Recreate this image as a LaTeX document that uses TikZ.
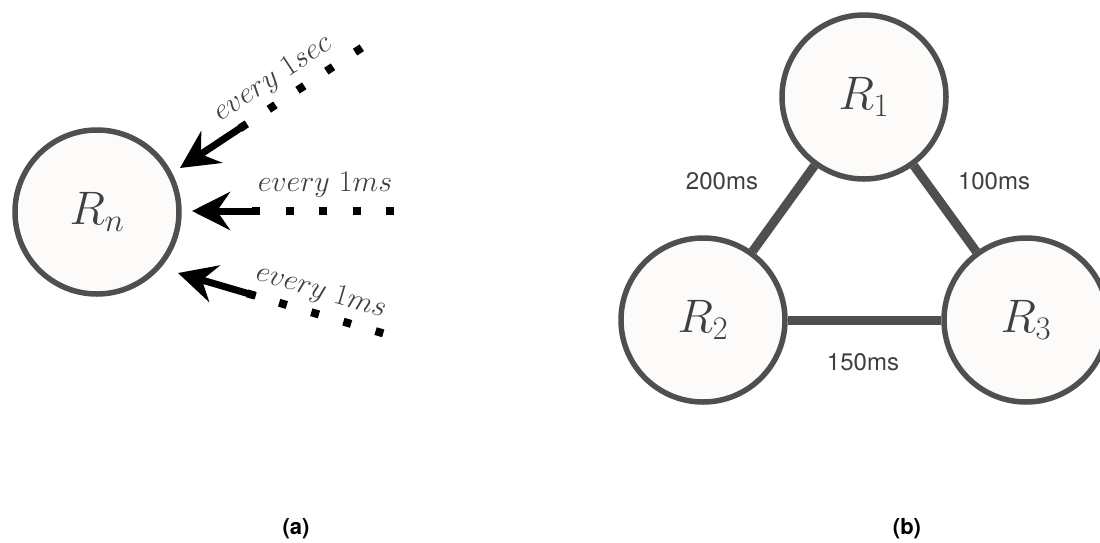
\documentclass[tikz,border=0pt]{standalone}
\usepackage{fix-cm}
\usepackage{fontspec}
\newfontfamily\heros{TeX Gyre Heros}
\usetikzlibrary{arrows.meta}
\definecolor{ring}{HTML}{4F4F4F}
\definecolor{ringfill}{HTML}{FCFBF9}
\definecolor{txt}{HTML}{404040}
\begin{document}
\begin{tikzpicture}[x=1pt,y=-1pt,
  replica/.style={circle, draw=ring, fill=ringfill, line width=5.5pt, minimum size=164pt, inner sep=0pt, text=txt, font=\fontsize{47}{56}\selectfont},
  link/.style={draw=ring, line width=9pt},
  lat/.style={text=txt, inner sep=0pt, font=\heros\fontsize{24}{28}\selectfont},
  period/.style={text=txt, inner sep=0pt, font=\fontsize{30}{36}\selectfont},
  shaft/.style={line width=7pt, -{Stealth[length=38pt,width=38pt,inset=13pt]}},
  dotsline/.style={line width=8pt, dash pattern=on 8pt off #1},
  subcap/.style={inner sep=0pt, font=\heros\bfseries\fontsize{22}{26}\selectfont}
]
\fill[white] (0,0) rectangle (1100,542);
\useasboundingbox (0,0) rectangle (1100,542);

% ---------- (a) ----------
\node[replica] (Rn) at (97,212) {$R_n$};

% top arrow
\coordinate (t1) at (180,168);
\coordinate (s1) at (246.7,123.8);
\coordinate (d1) at (240.0,128.3);
\coordinate (f1) at (361.8,47.7);
\draw[dotsline=26.5pt] (d1) -- (f1);
\draw[shaft] (s1) -- (t1);
\node[period, rotate=33.5] (l1) at (273,79) {$every\ 1sec$};

% middle arrow
\coordinate (t2) at (192,211);
\coordinate (s2) at (260,211);
\coordinate (d2) at (252,211);
\coordinate (f2) at (394,211);
\draw[dotsline=25.5pt] (d2) -- (f2);
\draw[shaft] (s2) -- (t2);
\node[period] (l2) at (325,185) {$every\ 1ms$};

% bottom arrow
\coordinate (t3) at (178,273);
\coordinate (s3) at (255.7,295.8);
\coordinate (d3) at (247.0,293.3);
\coordinate (f3) at (387.1,334.5);
\draw[dotsline=25.5pt] (d3) -- (f3);
\draw[shaft] (s3) -- (t3);
\node[period, rotate=-16.4] (l3) at (321,292) {$every\ 1ms$};

\node[subcap] (ca) at (296,529) {(a)};

% ---------- (b) ----------
\node[replica] (R1) at (864,97) {$R_1$};
\node[replica] (R2) at (703,320) {$R_2$};
\node[replica] (R3) at (1026,320) {$R_3$};
\draw[link] (R1) -- (R2);
\draw[link] (R1) -- (R3);
\draw[link] (R2) -- (R3);
\node[lat] (w12) at (722,181) {200ms};
\node[lat] (w13) at (994,181) {100ms};
\node[lat] (w23) at (863,362) {150ms};

\node[subcap] (cb) at (907,529) {(b)};
\end{tikzpicture}
\end{document}
